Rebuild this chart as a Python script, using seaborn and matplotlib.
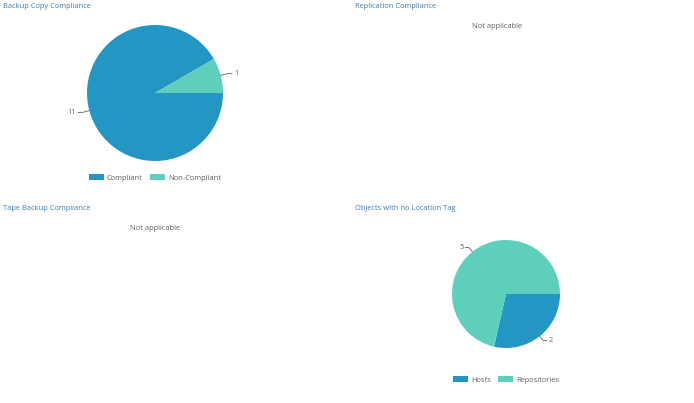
'''
    Compliance dashboard pies
'''

import matplotlib
matplotlib.use('Agg')
import matplotlib.pyplot as plt
import numpy as np
import seaborn as sns

# data
backup_labels = ['Compliant', 'Non-Compliant']
backup_values = [11, 1]
location_labels = ['Hosts', 'Repositories']
location_values = [2, 5]
panel_titles = ['Backup Copy Compliance', 'Replication Compliance',
                'Tape Backup Compliance', 'Objects with no Location Tag']

sns.set_theme(style='white')
plt.rcParams['font.family'] = ['Open Sans', 'DejaVu Sans']
colors = ['#2496c4', '#5ecfba']
title_color = '#3c7cb4'
text_color = '#606060'

W, H = 694, 403
fig = plt.figure(figsize=(W / 100, H / 100), dpi=100)
fig.patch.set_facecolor('white')


def px(x, y):
    return x / W, 1 - y / H


# titles
for (x, y), t in zip([(3, 6), (355, 6), (3, 208), (355, 208)], panel_titles):
    fig.text(*px(x, y), t, color=title_color, fontsize=5.4, va='center', ha='left')

# not applicable panels
fig.text(*px(497, 26), 'Not applicable', color=text_color, fontsize=5.4, ha='center', va='center')
fig.text(*px(155, 228), 'Not applicable', color=text_color, fontsize=5.4, ha='center', va='center')


def pie_panel(cx, cy, r, labels, values, legend_y):
    span = 1.6
    size = 2 * r * span
    ax = fig.add_axes([(cx - size / 2) / W, 1 - (cy + size / 2) / H, size / W, size / H])
    wedges, _ = ax.pie(values, colors=colors, startangle=0, counterclock=False,
                       wedgeprops=dict(linewidth=0))
    ax.set_xlim(-span, span)
    ax.set_ylim(-span, span)
    ax.set_aspect('equal')
    ax.axis('off')
    for w, v in zip(wedges, values):
        ang = np.deg2rad((w.theta1 + w.theta2) / 2)
        c, s = np.cos(ang), np.sin(ang)
        x0, y0 = c * 1.0, s * 1.0
        x1, y1 = c * 1.1, s * 1.1
        side = 1 if c >= 0 else -1
        x2 = x1 + side * 0.07
        ax.plot([x0, x1, x2], [y0, y1, y1], color=text_color, lw=0.6)
        ax.text(x2 + side * 0.03, y1, str(v), color=text_color, fontsize=5.4,
                ha='left' if side > 0 else 'right', va='center')
    fig.legend(wedges, labels, loc='center', bbox_to_anchor=px(cx, legend_y),
               ncol=len(labels), frameon=False, fontsize=5.4, labelcolor=text_color,
               handlelength=2.0, handleheight=0.9, handletextpad=0.4, columnspacing=1.0)


pie_panel(155, 93, 68, backup_labels, backup_values, 178)
pie_panel(506, 294, 54, location_labels, location_values, 380)

fig.savefig('out.png', dpi=100, facecolor='white')
